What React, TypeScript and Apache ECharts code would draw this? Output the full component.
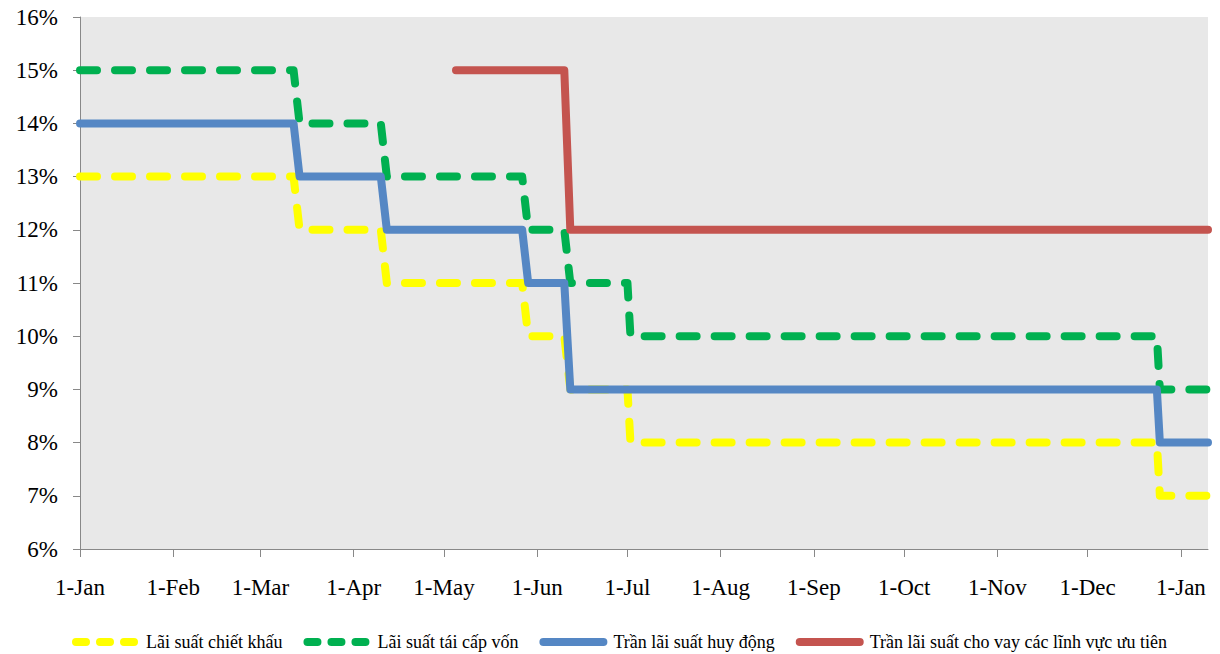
import React, { useEffect, useRef } from 'react';
import * as echarts from 'echarts';

// ---- data ----
const monthNames = ['Jan', 'Feb', 'Mar', 'Apr', 'May', 'Jun', 'Jul', 'Aug', 'Sep', 'Oct', 'Nov', 'Dec'];
const tickDates = [
  '2012-01-01', '2012-02-01', '2012-03-01', '2012-04-01', '2012-05-01', '2012-06-01', '2012-07-01',
  '2012-08-01', '2012-09-01', '2012-10-01', '2012-11-01', '2012-12-01', '2013-01-01',
];
const xStart = '2012-01-01';
const xEnd = '2013-01-10';
const yMin = 6;
const yMax = 16;
const yStep = 1;

const seriesNames = [
  'Lãi suất chiết khấu',
  'Lãi suất tái cấp vốn',
  'Trần lãi suất huy động',
  'Trần lãi suất cho vay các lĩnh vực ưu tiên',
];

const discountRate: [string, number][] = [
  ['2012-01-01', 13], ['2012-03-12', 13], ['2012-03-14', 12], ['2012-04-10', 12], ['2012-04-12', 11],
  ['2012-05-27', 11], ['2012-05-29', 10], ['2012-06-10', 10], ['2012-06-12', 9], ['2012-07-01', 9],
  ['2012-07-02', 8], ['2012-12-24', 8], ['2012-12-25', 7], ['2013-01-10', 7],
];
const refinanceRate: [string, number][] = [
  ['2012-01-01', 15], ['2012-03-12', 15], ['2012-03-14', 14], ['2012-04-10', 14], ['2012-04-12', 13],
  ['2012-05-27', 13], ['2012-05-29', 12], ['2012-06-10', 12], ['2012-06-12', 11], ['2012-07-01', 11],
  ['2012-07-02', 10], ['2012-12-24', 10], ['2012-12-25', 9], ['2013-01-10', 9],
];
const depositCeiling: [string, number][] = [
  ['2012-01-01', 14], ['2012-03-12', 14], ['2012-03-14', 13], ['2012-04-10', 13], ['2012-04-12', 12],
  ['2012-05-27', 12], ['2012-05-29', 11], ['2012-06-10', 11], ['2012-06-12', 9], ['2012-12-24', 9],
  ['2012-12-25', 8], ['2013-01-10', 8],
];
const priorityLendingCeiling: [string, number][] = [
  ['2012-05-05', 15], ['2012-06-10', 15], ['2012-06-12', 12], ['2013-01-10', 12],
];

const colors = ['#FFFF00', '#00B050', '#5587C4', '#C4544F'];

function ts(s: string): number {
  const [y, m, d] = s.split('-').map(Number);
  return Date.UTC(y, m - 1, d);
}

export default function App() {
  const ref = useRef<HTMLDivElement>(null);
  useEffect(() => {
    const chart = echarts.init(ref.current!, null, { renderer: 'svg' });
    const font = 'Times New Roman, Liberation Serif, serif';
    const dashed = [17, 18];
    const mk = (i: number, data: [string, number][], isDashed: boolean) => ({
      name: seriesNames[i],
      type: 'line',
      data: data.map(([d, v]) => [ts(d), v]),
      symbol: 'none',
      showSymbol: false,
      silent: true,
      emphasis: { disabled: true },
      itemStyle: { color: colors[i] },
      lineStyle: {
        color: colors[i],
        width: 8,
        type: isDashed ? dashed : 'solid',
        cap: 'round',
        join: 'round',
      },
    });
    const ticks = tickDates.map(ts);
    chart.setOption({
      animation: false,
      backgroundColor: '#FFFFFF',
      textStyle: { fontFamily: font },
      grid: {
        left: 80,
        right: 12,
        top: 17,
        bottom: 105,
        show: true,
        backgroundColor: '#E8E8E8',
        borderWidth: 0,
      },
      legend: {
        left: 67,
        top: 628,
        itemWidth: 60,
        itemHeight: 14,
        itemGap: 21,
        itemStyle: { opacity: 0, borderWidth: 0 },
        lineStyle: { width: 8, cap: 'round' },
        textStyle: { fontFamily: font, fontSize: 18, color: '#000', padding: [0, 0, 0, 5] },
        data: [
          { name: seriesNames[0], lineStyle: { type: [10, 14], cap: 'round', width: 8 } },
          { name: seriesNames[1], lineStyle: { type: [10, 14], cap: 'round', width: 8 } },
          { name: seriesNames[2], lineStyle: { type: 'solid', cap: 'round', width: 8 } },
          { name: seriesNames[3], lineStyle: { type: 'solid', cap: 'round', width: 8 } },
        ],
      },
      xAxis: {
        type: 'value',
        min: ts(xStart),
        max: ts(xEnd),
        axisLine: { show: true, onZero: false, lineStyle: { color: '#888888', width: 1 } },
        axisTick: { show: true, length: 8, lineStyle: { color: '#888888' }, customValues: ticks },
        splitLine: { show: false },
        axisLabel: {
          customValues: ticks,
          fontSize: 23,
          fontFamily: font,
          color: '#000',
          margin: 27,
          hideOverlap: false,
          formatter: (v: number) => {
            const d = new Date(v);
            return `${d.getUTCDate()}-${monthNames[d.getUTCMonth()]}`;
          },
        },
      },
      yAxis: {
        type: 'value',
        min: yMin,
        max: yMax,
        interval: yStep,
        axisLine: { show: true, lineStyle: { color: '#888888', width: 1 } },
        axisTick: { show: true, length: 7, lineStyle: { color: '#888888' } },
        splitLine: { show: false },
        axisLabel: {
          fontSize: 23,
          fontFamily: font,
          color: '#000',
          margin: 22,
          formatter: '{value}%',
        },
      },
      series: [
        mk(0, discountRate, true),
        mk(1, refinanceRate, true),
        mk(2, depositCeiling, false),
        mk(3, priorityLendingCeiling, false),
      ],
    });
    return () => chart.dispose();
  }, []);
  return (
    <div
      ref={ref}
      style={{ position: 'absolute', left: 0, top: 0, width: 1220, height: 654 }}
    />
  );
}
